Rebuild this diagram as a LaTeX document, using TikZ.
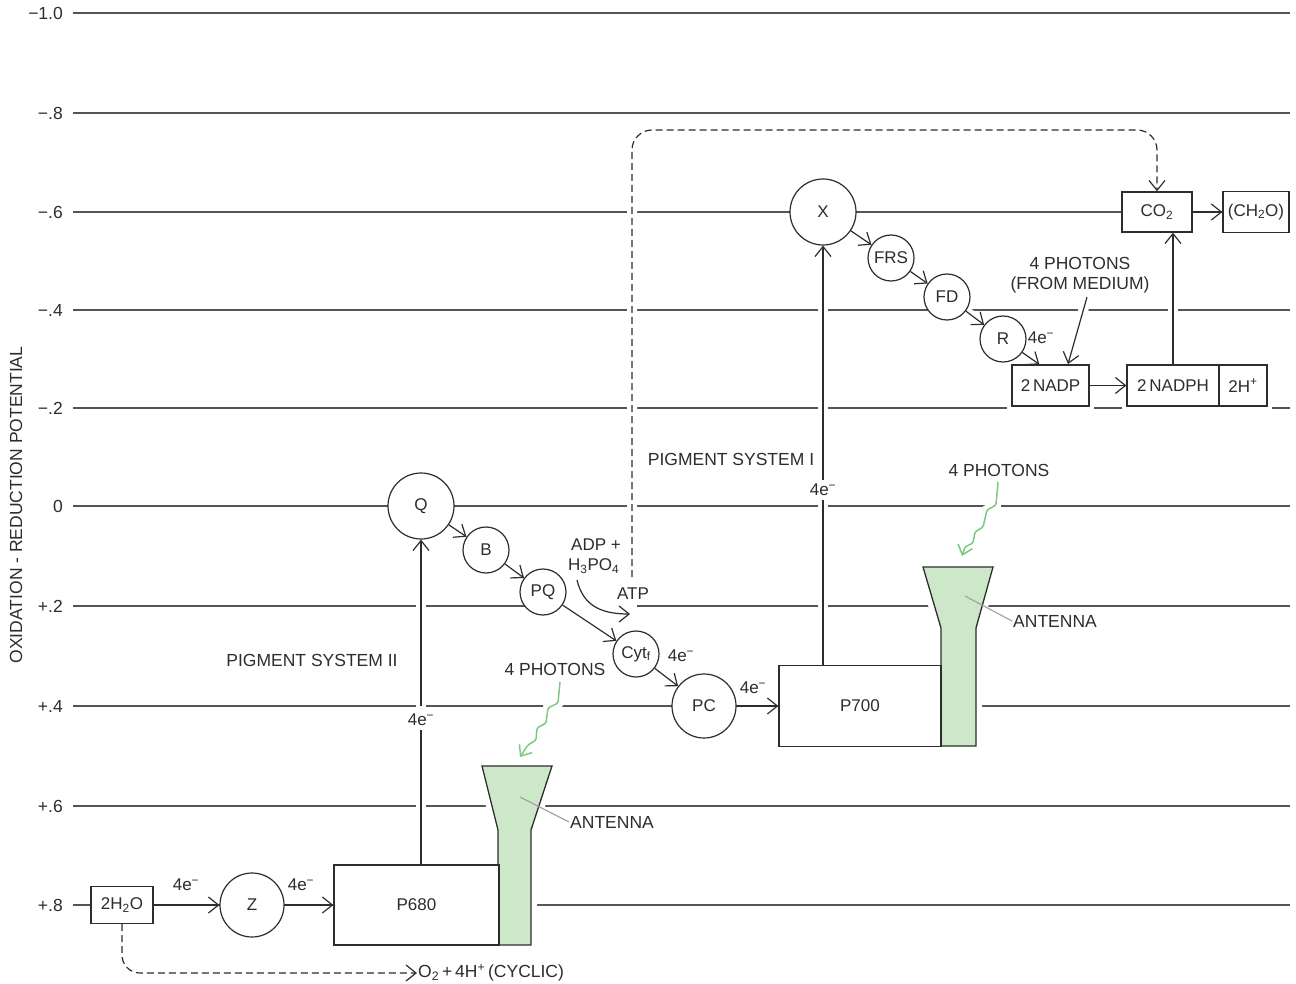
\documentclass[tikz,border=0pt]{standalone}
\usepackage{fontspec}
\setmainfont{Liberation Sans}
\usetikzlibrary{arrows.meta,calc}
\pgfdeclarelayer{bg}
\pgfdeclarelayer{halo}
\pgfsetlayers{bg,halo,main}
\definecolor{ink}{RGB}{45,45,45}
\definecolor{lgray}{RGB}{85,85,85}
\definecolor{antgreen}{RGB}{205,232,200}
\definecolor{phgreen}{RGB}{125,200,130}
\newcommand\figfont{\fontsize{17.5}{20}\selectfont}
\newcommand\smfont{\fontsize{17}{19}\selectfont}
\begin{document}
\begin{tikzpicture}[x=1pt,y=-1pt,
  hl/.style={draw=lgray,line width=1.7pt},
  con/.style={draw=ink,line width=1.2pt},
  tip/.style={-{Straight Barb[length=10pt,width=16pt]}},
  arr/.style={con,tip},
  circ/.style={circle,draw=ink,line width=1.2pt,fill=white,inner sep=0pt,text=ink,font=\smfont},
  bx/.style={rectangle,draw=ink,line width=1.3pt,fill=white,inner sep=0pt,text=ink,font=\smfont},
  lbl/.style={text=ink,font=\figfont,inner sep=1pt},
  slbl/.style={text=ink,font=\smfont,inner sep=1pt},
  halo/.style={draw=white,line width=10pt},
  ant/.style={fill=antgreen,draw=ink,line width=1.3pt},
  photon/.style={draw=phgreen,line width=1.5pt,rounded corners=1.5pt,-{Straight Barb[length=9pt,width=15pt]}},
  leader/.style={draw=gray!75,line width=1.1pt},
  dsh/.style={con,dash pattern=on 7pt off 4pt},
]
\useasboundingbox (0,0) rectangle (1296,984);

% ---------- horizontal potential lines ----------
\begin{pgfonlayer}{bg}
\fill[white] (0,0) rectangle (1296,984);
\foreach \yy in {13,113,212,310,408,506,706,806,905}
  \draw[hl] (73,\yy) -- (1290,\yy);
\draw[hl] (73,606) -- (540,606);
\draw[hl] (637,606) -- (1290,606);
\end{pgfonlayer}

\foreach \yy/\t in {13/−1.0,113/−.8,212/−.6,310/−.4,408/−.2,506/0,606/+.2,706/+.4,806/+.6,905/+.8}
  \node[lbl,anchor=east] at (64,\yy) {\t};
\node[lbl,rotate=90] (axis) at (16,505) {OXIDATION - REDUCTION POTENTIAL};

% ---------- antennas ----------
\path[ant] (482,766) -- (552,766) -- (531,830) -- (531,945) -- (498,945) -- (498,830) -- cycle;
\path[ant] (923,567) -- (993,567) -- (976,628) -- (976,746) -- (941,746) -- (941,628) -- cycle;

% ---------- nodes ----------
\node[bx,minimum width=62pt,minimum height=37pt] (h2o) at (122,905) {2H\textsubscript{2}O};
\node[circ,minimum size=64pt] (Z) at (252,905) {Z};
\node[bx,minimum width=165pt,minimum height=80pt] (p680) at (416.5,905) {P680};
\node[circ,minimum size=66pt] (Q) at (421,506) {Q};
\node[circ,minimum size=46pt] (B) at (486,550) {B};
\node[circ,minimum size=46pt] (PQ) at (543,592) {PQ};
\node[circ,minimum size=46pt] (cyt) at (636,654) {Cyt\textsubscript{f}};
\node[circ,minimum size=64pt] (PC) at (704,706) {PC};
\node[bx,minimum width=162pt,minimum height=81pt] (p700) at (860,706) {P700};
\node[circ,minimum size=66pt] (X) at (823,212) {X};
\node[circ,minimum size=46pt] (FRS) at (891,258) {FRS};
\node[circ,minimum size=46pt] (FD) at (947,297) {FD};
\node[circ,minimum size=46pt] (R) at (1003,339) {R};
\node[bx,minimum width=77pt,minimum height=41pt] (nadp) at (1050.5,385.5) {2\,NADP};
\node[bx,minimum width=92pt,minimum height=41pt] (nadph) at (1173,385.5) {2\,NADPH};
\node[bx,minimum width=48pt,minimum height=41pt] (hplus) at (1243,385.5) {2H\textsuperscript{+}};
\node[bx,minimum width=70pt,minimum height=40pt] (co2) at (1157,212) {CO\textsubscript{2}};
\node[bx,minimum width=66pt,minimum height=41pt] (ch2o) at (1256,212) {(CH\textsubscript{2}O)};

% ---------- labels ----------
\node[lbl] (ps2) at (312,660) {PIGMENT SYSTEM II};
\node[lbl] (ps1) at (731,459) {PIGMENT SYSTEM I};
\node[lbl] (ph2) at (555,669) {4 PHOTONS};
\node[lbl] (ph1) at (999,470) {4 PHOTONS};
\node[lbl,align=center] (phm) at (1080,275) {4 PHOTONS\\(FROM MEDIUM)};
\node[lbl,anchor=west] (an2) at (569,822) {ANTENNA};
\node[lbl,anchor=west] (an1) at (1012,621) {ANTENNA};
\node[slbl,anchor=west] (adp) at (570,545) {ADP +};
\node[slbl,anchor=west] (h3po4) at (567,566) {H\textsubscript{3}PO\textsubscript{4}};
\node[slbl] (atp) at (633,594) {ATP};
\node[lbl,anchor=west] (o2) at (417,973) {O\textsubscript{2}\,+\,4H\textsuperscript{+}\,(CYCLIC)};
\node[slbl] (e1) at (186,885) {4e\textsuperscript{−}};
\node[slbl] (e2) at (301,885) {4e\textsuperscript{−}};
\node[slbl] (e4) at (681,656) {4e\textsuperscript{−}};
\node[slbl] (e5) at (753,688) {4e\textsuperscript{−}};
\node[slbl] (e6) at (1041,338) {4e\textsuperscript{−}};

\coordinate (dtop) at (0,130);
\coordinate (dstart) at (632,577);

% ---------- halos ----------
\begin{pgfonlayer}{halo}
\draw[halo] (Q.south) -- (Q.south |- p680.north);
\draw[halo] (X.south) -- (X.south |- p700.north);
\draw[halo] (nadph.north) -- (nadph.north |- co2.south);
\draw[halo,rounded corners=20pt] (dstart) -- (dstart |- dtop) -- (co2.north |- dtop) -- (co2.north);
\draw[halo,line width=12pt] (482,766) -- (552,766) -- (531,830) -- (531,945) -- (498,945) -- (498,830) -- cycle;
\draw[halo,line width=12pt] (923,567) -- (993,567) -- (976,628) -- (976,746) -- (941,746) -- (941,628) -- cycle;
\draw[halo,line width=8pt] (nadp.south west) rectangle (nadp.north east);
\draw[halo,line width=8pt] (nadph.south west) rectangle (hplus.north east);
\draw[halo] (FD) -- (R);
\draw[halo] (1087,297) -- (1068,364);
\draw[halo] (560,682) -- (558,703) -- (548,708) -- (546,723) -- (537,728) -- (536,740) -- (528,745) -- (520,757);
\draw[halo] (998,482) -- (996,505) -- (987,510) -- (983,527) -- (975,532) -- (973,543) -- (965,547) -- (962,556);
\end{pgfonlayer}

% ---------- connectors ----------
\draw[arr] (h2o.east) -- (Z.west);
\draw[arr] (Z.east) -- (Z.east -| p680.west);
\draw[con] (Q.south |- p680.north) -- (Q.south |- 0,730);
\draw[arr] (Q.south |- 0,706) -- (Q.south);
\node[slbl,fill=white,inner sep=2pt] (e3) at (421,720) {4e\textsuperscript{−}};
\draw[arr] (Q) -- (B);
\draw[arr] (B) -- (PQ);
\draw[arr] (PQ) -- (cyt);
\draw[arr] (cyt) -- (PC);
\draw[arr] (PC.east) -- (PC.east -| p700.west);
\draw[con] (X.south |- p700.north) -- (X.south |- 0,500);
\draw[arr] (X.south |- 0,480) -- (X.south);
\node[slbl,fill=white,inner sep=2pt] (e7) at (823,490) {4e\textsuperscript{−}};
\draw[arr] (X) -- (FRS);
\draw[arr] (FRS) -- (FD);
\draw[arr] (FD) -- (R);
\draw[arr] (R) -- ($(nadp.north west)+(28,0)$);
\draw[arr] (nadp.east) -- (nadph.west);
\draw[arr] (nadph.north) -- (nadph.north |- co2.south);
\draw[arr] (co2.east) -- (ch2o.west);
\draw[arr] (phm.south) ++(7,3) -- (1068,364);
\draw[arr] (577,580) .. controls (583,605) and (600,614) .. (630,614);
\draw[dsh,tip,rounded corners=20pt] (dstart) -- (dstart |- dtop) -- (co2.north |- dtop) -- (co2.north);
\draw[dsh,tip,rounded corners=18pt] (h2o.south) |- (o2.west);

% ---------- photons and leaders ----------
\draw[photon] (560,682) -- (558,703) -- (548,708) -- (546,723) -- (537,728) -- (536,740) -- (528,745) -- (520,757);
\draw[photon] (998,482) -- (996,505) -- (987,510) -- (983,527) -- (975,532) -- (973,543) -- (965,547) -- (962,556);
\draw[leader] (520,797) -- (an2.west);
\draw[leader] (965,596) -- (an1.west);
\end{tikzpicture}
\end{document}
